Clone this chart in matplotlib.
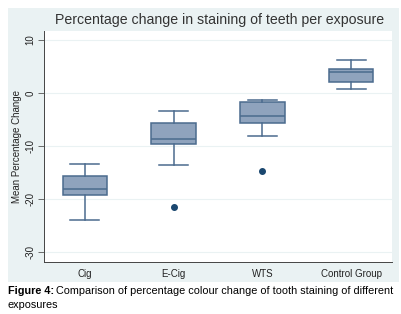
import numpy as np
import matplotlib.pyplot as plt
from matplotlib.patches import Rectangle

# values
groups = ['Cig', 'E-Cig', 'WTS', 'Control Group']
whis_lo = [-24.0, -13.6, -8.2, 0.75]
q1 = [-19.3, -9.6, -5.7, 2.0]
median = [-18.2, -8.7, -4.4, 3.95]
q3 = [-15.7, -5.6, -1.75, 4.5]
whis_hi = [-13.45, -3.4, -1.4, 6.2]
outliers = [[], [-21.6], [-14.65], []]
yticks = [-30, -20, -10, 0, 10]

stata_bg = '#eaf2f3'
box_fill = '#8fa3bd'
box_edge = '#4b6b8e'
navy = '#1a476f'

plt.rcParams['font.family'] = ['Liberation Sans', 'DejaVu Sans']

fig = plt.figure(figsize=(4.02, 3.14), dpi=100)
fig.patches.append(Rectangle((8 / 402, 1 - 282 / 314), 391 / 402, 274 / 314,
                             transform=fig.transFigure, facecolor=stata_bg,
                             edgecolor='none', zorder=-5))

ax = fig.add_axes([44 / 402, 52 / 314, 348 / 402, 231 / 314])
ax.set_facecolor('white')

stats = []
for i, g in enumerate(groups):
    stats.append({'label': g, 'whislo': whis_lo[i], 'q1': q1[i], 'med': median[i],
                  'q3': q3[i], 'whishi': whis_hi[i], 'fliers': outliers[i]})

ax.bxp(stats, positions=range(1, 5), widths=0.5, capwidths=0.33, patch_artist=True,
       boxprops=dict(facecolor=box_fill, edgecolor=box_edge, linewidth=1.1),
       medianprops=dict(color=box_edge, linewidth=1.1),
       whiskerprops=dict(color=box_edge, linewidth=1.1),
       capprops=dict(color=box_edge, linewidth=1.1),
       flierprops=dict(marker='o', markerfacecolor=navy, markeredgecolor=navy,
                       markersize=4))

ax.set_xlim(0.54, 4.46)
ax.set_ylim(-31.9, 11.7)
ax.set_yticks(yticks)
ax.set_yticklabels([str(t) for t in yticks], rotation=90, va='center', fontsize=7)
ax.tick_params(axis='x', length=0, labelsize=7, pad=5, colors='#222222')
ax.tick_params(axis='y', length=4, width=0.6, color='#555555', pad=2, colors='#222222')
ax.yaxis.grid(True, color=stata_bg, linewidth=0.8)
ax.set_axisbelow(True)
for s in ['top', 'right']:
    ax.spines[s].set_visible(False)
for s in ['left', 'bottom']:
    ax.spines[s].set_color('#444444')
    ax.spines[s].set_linewidth(0.7)

ax.set_ylabel('Mean Percentage Change', fontsize=7, color='#222222')
ax.yaxis.set_label_coords(-0.063, 0.5)
fig.text(220 / 402, 1 - 20 / 314, 'Percentage change in staining of teeth per exposure',
         ha='center', va='center', fontsize=10.2, color='#333333')

# caption: bold lead-in, then regular text placed right after it
cap_size = 7.8
lead = fig.text(8 / 402, 1 - 291 / 314, 'Figure 4:', ha='left', va='center',
                fontsize=cap_size, fontweight='bold')
renderer = fig.canvas.get_renderer()
bb = lead.get_window_extent(renderer)
fig.text((bb.x1 + 2) / 402, 1 - 291 / 314,
         'Comparison of percentage colour change of tooth staining of different',
         ha='left', va='center', fontsize=cap_size)
fig.text(8 / 402, 1 - 305 / 314, 'exposures', ha='left', va='center', fontsize=cap_size)

fig.savefig('out.png', dpi=100)
